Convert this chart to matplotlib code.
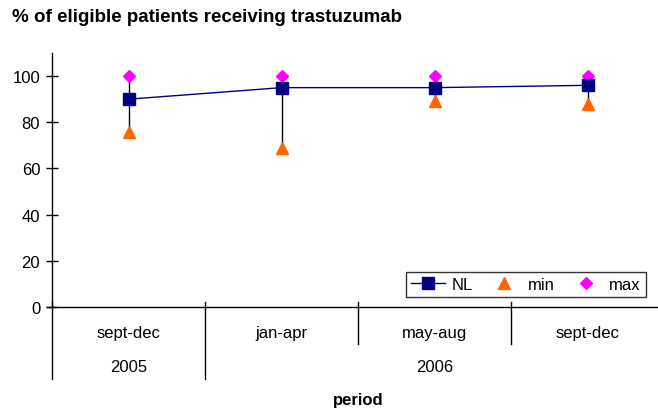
import matplotlib.pyplot as plt

plt.rcParams['font.family'] = ['Liberation Sans', 'DejaVu Sans']

# data
periods = ['sept-dec', 'jan-apr', 'may-aug', 'sept-dec']
years = ['2005', '2006']
year_span = [1, 3]  # number of periods in each year
nl = [90, 95, 95, 96]
min_vals = [76, 69, 89, 88]
max_vals = [100, 100, 100, 100]

fig = plt.figure(figsize=(6.58, 4.10), dpi=100)
ax = fig.add_axes([52 / 658, 1 - 308 / 410, 612 / 658, 254 / 410])

x = [i + 0.5 for i in range(len(periods))]

# high-low lines
ax.vlines(x, min_vals, max_vals, color='black', lw=1, zorder=1)
ax.plot(x, nl, color='#000080', lw=1, marker='s', ms=8, mfc='#000080',
        mec='#000080', zorder=3, label='NL')
ax.plot(x, min_vals, ls='none', marker='^', ms=9, color='#FF6600', zorder=2, label='min')
ax.plot(x, max_vals, ls='none', marker='D', ms=6.5, color='#FF00FF', zorder=2, label='max')

ax.set_xlim(0, len(periods))
ax.set_ylim(0, 110)
ax.set_yticks(range(0, 101, 20))
ax.tick_params(axis='y', direction='inout', length=9, width=1, labelsize=12, pad=4)
ax.set_xticks([])
for s in ['top', 'right']:
    ax.spines[s].set_visible(False)
ax.spines['left'].set_linewidth(1)
ax.spines['bottom'].set_linewidth(1)

trans = ax.get_xaxis_transform()
# x axis line extends a bit past the y axis
ax.plot([-0.035, 0], [0, 0], transform=trans, color='black', lw=1, clip_on=False)

# category labels and separators
for i, p in enumerate(periods):
    ax.text(i + 0.5, -0.10, p, transform=trans, ha='center', va='center', fontsize=12)
boundaries = [0]
for n in year_span:
    boundaries.append(boundaries[-1] + n)
for b in range(len(periods)):
    bottom = -0.283 if b in boundaries else -0.146
    ax.plot([b, b], [0.018, bottom], transform=trans, color='black', lw=1, clip_on=False)

# year labels
start = 0
for yr, n in zip(years, year_span):
    ax.text(start + n / 2, -0.236, yr, transform=trans, ha='center', va='center', fontsize=12)
    start += n

ax.text(2, -0.365, 'period', transform=trans, ha='center', va='center',
        fontsize=12, fontweight='bold')

fig.text(12 / 658, 1 - 18 / 410, '% of eligible patients receiving trastuzumab',
         ha='left', va='center', fontsize=13.5, fontweight='bold')

leg = ax.legend(loc='lower right', bbox_to_anchor=(594 / 612, 10 / 254), ncol=3,
                fontsize=12, frameon=True, fancybox=False, edgecolor='black',
                borderpad=0.3, borderaxespad=0, handlelength=2.0,
                columnspacing=0.9, handletextpad=0.4)
leg.get_frame().set_linewidth(1)

fig.savefig('out.png', dpi=100)
